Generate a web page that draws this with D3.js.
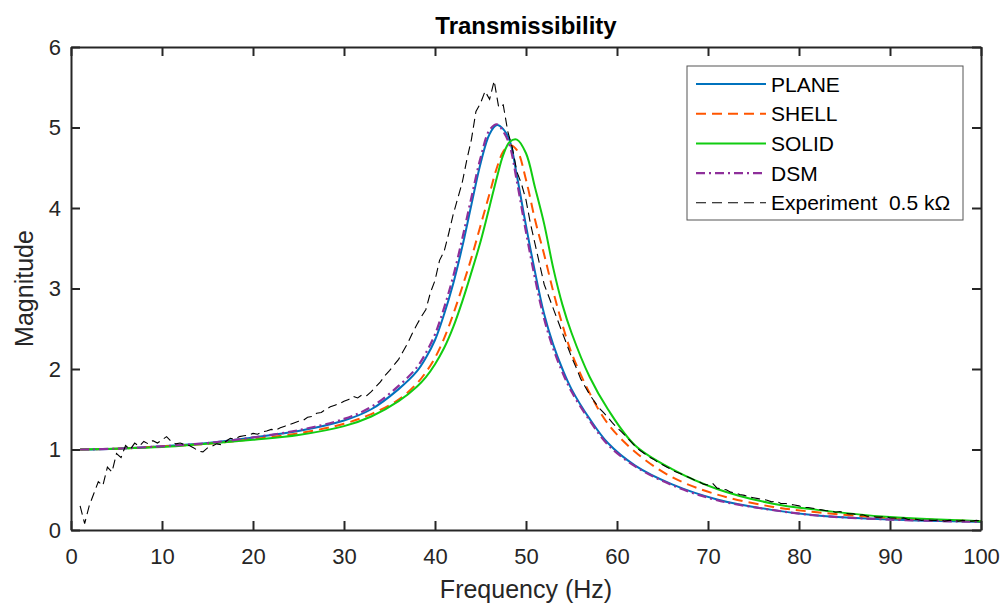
<!DOCTYPE html>
<html>
<head>
<meta charset="utf-8">
<script src="https://cdn.jsdelivr.net/npm/d3@7"></script>
<style>
    body { margin: 0; background: #fff; }
    text { font-family: "Liberation Sans", Arial, sans-serif; fill: #262626; }
</style>
</head>
<body>
<svg id="chart" width="1000" height="603"></svg>
<script>
// model curves, sampled on one frequency grid (Hz)
var modelFreq = [1, 5, 10, 15, 20, 25, 30, 33, 36, 38, 39, 40, 41, 42, 43, 44, 45, 46, 46.8, 47.5, 48.2,
    49, 50, 51, 52, 53, 54, 55, 57, 59, 62, 66, 71, 77, 82, 90, 100];

var plane = [1.00, 1.01, 1.04, 1.08, 1.15, 1.23, 1.36, 1.50, 1.75, 1.97, 2.14, 2.36, 2.68, 3.06, 3.52, 4.04, 4.55, 4.92, 5.03, 4.98, 4.84,
    4.40, 3.78, 3.20, 2.68, 2.30, 2.00, 1.75, 1.38, 1.08, 0.80, 0.57, 0.38, 0.25, 0.18, 0.13, 0.10];

var shell = [1.00, 1.01, 1.04, 1.07, 1.13, 1.20, 1.32, 1.44, 1.62, 1.82, 1.96, 2.14, 2.38, 2.68, 3.02, 3.38, 3.78, 4.18, 4.50, 4.70, 4.78,
    4.72, 4.35, 3.85, 3.42, 2.96, 2.55, 2.20, 1.70, 1.32, 0.97, 0.66, 0.44, 0.29, 0.22, 0.15, 0.11];

var solid = [1.00, 1.01, 1.03, 1.07, 1.12, 1.18, 1.29, 1.41, 1.60, 1.78, 1.90, 2.06, 2.26, 2.52, 2.84, 3.20, 3.58, 4.02, 4.38, 4.66, 4.82,
    4.85, 4.68, 4.25, 3.80, 3.25, 2.80, 2.45, 1.90, 1.50, 1.05, 0.76, 0.51, 0.33, 0.25, 0.16, 0.11];

var dsm = [1.00, 1.01, 1.04, 1.08, 1.15, 1.24, 1.38, 1.53, 1.79, 2.02, 2.20, 2.43, 2.76, 3.15, 3.62, 4.13, 4.62, 4.97, 5.04, 4.95, 4.78,
    4.33, 3.70, 3.12, 2.62, 2.25, 1.96, 1.72, 1.36, 1.06, 0.79, 0.56, 0.37, 0.25, 0.18, 0.13, 0.10];

// measured transmissibility, every 0.5 Hz from 1 to 100 Hz
var expStart = 1, expStep = 0.5;
var experiment = [
    0.30, 0.08, 0.30, 0.45, 0.60, 0.55, 0.78, 0.72, 0.95, 0.90,
    1.05, 1.00, 1.08, 1.04, 1.10, 1.07, 1.11, 1.08, 1.12, 1.16,
    1.10, 1.07, 1.08, 1.06, 1.05, 1.02, 0.98, 0.97, 1.02, 1.04,
    1.07, 1.06, 1.10, 1.14, 1.13, 1.16, 1.17, 1.18, 1.20, 1.19,
    1.22, 1.23, 1.25, 1.24, 1.27, 1.29, 1.31, 1.33, 1.35, 1.36,
    1.40, 1.41, 1.45, 1.46, 1.50, 1.53, 1.55, 1.57, 1.60, 1.62,
    1.66, 1.64, 1.68, 1.67, 1.72, 1.78, 1.84, 1.92, 1.98, 2.05,
    2.12, 2.22, 2.32, 2.44, 2.55, 2.65, 2.74, 2.95, 3.10, 3.35,
    3.46, 3.68, 3.92, 4.12, 4.32, 4.60, 4.85, 5.20, 5.30, 5.45,
    5.35, 5.58, 5.25, 5.28, 4.95, 4.75, 4.45, 4.30, 4.10, 3.80,
    3.55, 3.30, 3.05, 2.90, 2.75, 2.60, 2.45, 2.30, 2.15, 2.02,
    1.88, 1.78, 1.68, 1.60, 1.52, 1.46, 1.40, 1.33, 1.27, 1.22,
    1.16, 1.10, 1.04, 0.99, 0.95, 0.91, 0.88, 0.84, 0.81, 0.78,
    0.75, 0.72, 0.70, 0.67, 0.65, 0.62, 0.60, 0.57, 0.56, 0.58,
    0.52, 0.51, 0.50, 0.47, 0.46, 0.44, 0.43, 0.41, 0.40, 0.39,
    0.38, 0.37, 0.35, 0.36, 0.33, 0.33, 0.32, 0.31, 0.30, 0.28,
    0.28, 0.27, 0.26, 0.25, 0.24, 0.24, 0.22, 0.23, 0.21, 0.20,
    0.20, 0.18, 0.19, 0.17, 0.17, 0.16, 0.16, 0.17, 0.15, 0.15,
    0.14, 0.15, 0.13, 0.14, 0.13, 0.12, 0.13, 0.12, 0.12, 0.13,
    0.11, 0.12, 0.12, 0.11, 0.12, 0.11, 0.11, 0.12, 0.11
];

var xTicks = [0, 10, 20, 30, 40, 50, 60, 70, 80, 90, 100];
var yTicks = [0, 1, 2, 3, 4, 5, 6];
var legendNames = ["PLANE", "SHELL", "SOLID", "DSM", "Experiment  0.5 k\u03A9"];

var svg = d3.select("#chart");
var margin = {left: 71, right: 19, top: 47, bottom: 73};
var width = +svg.attr("width") - margin.left - margin.right,
    height = +svg.attr("height") - margin.top - margin.bottom;

var x = d3.scaleLinear().domain([0, 100]).range([0, width]);
var y = d3.scaleLinear().domain([0, 6]).range([height, 0]);

var g = svg.append("g").attr("transform", "translate(" + margin.left + "," + margin.top + ")");

g.append("clipPath").attr("id", "plotClip")
    .append("rect").attr("width", width).attr("height", height);

var series = [
    {name: legendNames[0], values: plane, color: "#0072BD", dash: null, w: 2},
    {name: legendNames[1], values: shell, color: "#FF5500", dash: "10,6", w: 2},
    {name: legendNames[2], values: solid, color: "#11CC11", dash: null, w: 2},
    {name: legendNames[3], values: dsm, color: "#8E2F9A", dash: "9,4,2,4", w: 2.2}
];

var line = d3.line()
    .x(function (d) { return x(d[0]); })
    .y(function (d) { return y(d[1]); })
    .curve(d3.curveCatmullRom.alpha(0.5));

var plot = g.append("g").attr("clip-path", "url(#plotClip)");

series.forEach(function (s) {
    plot.append("path")
        .datum(modelFreq.map(function (f, i) { return [f, s.values[i]]; }))
        .attr("fill", "none")
        .attr("stroke", s.color)
        .attr("stroke-width", s.w)
        .attr("stroke-dasharray", s.dash)
        .attr("d", line);
});

var expData = experiment.map(function (v, i) { return [expStart + i * expStep, v]; });
plot.append("path")
    .datum(expData)
    .attr("fill", "none")
    .attr("stroke", "#000")
    .attr("stroke-width", 1.1)
    .attr("stroke-dasharray", "9,5")
    .attr("d", d3.line()
        .x(function (d) { return x(d[0]); })
        .y(function (d) { return y(d[1]); }));

// axes box with inward ticks on all sides
var axisColor = "#262626";
var tickLen = 9;

var bottomAxis = g.append("g").attr("transform", "translate(0," + height + ")")
    .call(d3.axisBottom(x).tickValues(xTicks).tickSizeInner(-tickLen).tickSizeOuter(0).tickPadding(18));
var topAxis = g.append("g")
    .call(d3.axisTop(x).tickValues(xTicks).tickSizeInner(-tickLen).tickSizeOuter(0).tickFormat(""));
var leftAxis = g.append("g")
    .call(d3.axisLeft(y).tickValues(yTicks).tickFormat(d3.format("d"))
        .tickSizeInner(-tickLen).tickSizeOuter(0).tickPadding(10));
var rightAxis = g.append("g").attr("transform", "translate(" + width + ",0)")
    .call(d3.axisRight(y).tickValues(yTicks).tickSizeInner(-tickLen).tickSizeOuter(0).tickFormat(""));

[bottomAxis, topAxis, leftAxis, rightAxis].forEach(function (a) {
    a.select(".domain").attr("stroke", axisColor).attr("stroke-width", 2);
    a.selectAll(".tick line").attr("stroke", axisColor).attr("stroke-width", 2);
    a.selectAll(".tick text")
        .attr("fill", axisColor)
        .style("font-size", "22px")
        .style("font-family", "'Liberation Sans', Arial, sans-serif");
});
bottomAxis.selectAll(".tick text").attr("dy", "0.71em");

// titles
g.append("text")
    .attr("x", width / 2).attr("y", -13)
    .attr("text-anchor", "middle")
    .style("font-size", "24px").style("font-weight", "bold")
    .style("fill", "#000")
    .text("Transmissibility");

g.append("text")
    .attr("x", width / 2).attr("y", height + 68)
    .attr("text-anchor", "middle")
    .style("font-size", "25px")
    .text("Frequency (Hz)");

g.append("text")
    .attr("transform", "translate(" + (-38) + "," + (height / 2) + ") rotate(-90)")
    .attr("text-anchor", "middle")
    .style("font-size", "25px")
    .text("Magnitude");

// legend
var legendItems = series.concat([{name: legendNames[4], color: "#000", dash: "10,6", w: 1.1}]);
var legend = svg.append("g").attr("transform", "translate(687,66)");
legend.append("rect")
    .attr("width", 276).attr("height", 154)
    .attr("fill", "#fff")
    .attr("stroke", "#555").attr("stroke-width", 1);

var row = legend.selectAll(".row")
    .data(legendItems)
    .enter().append("g")
    .attr("transform", function (d, i) { return "translate(0," + (18 + i * 29.7) + ")"; });

row.append("line")
    .attr("x1", 9).attr("x2", 79)
    .attr("stroke", function (d) { return d.color; })
    .attr("stroke-width", function (d) { return d.w; })
    .attr("stroke-dasharray", function (d) { return d.dash; });

row.append("text")
    .attr("x", 84).attr("dy", "0.36em")
    .style("font-size", "21px")
    .style("white-space", "pre")
    .style("fill", "#000")
    .text(function (d) { return d.name; });
</script>
</body>
</html>
